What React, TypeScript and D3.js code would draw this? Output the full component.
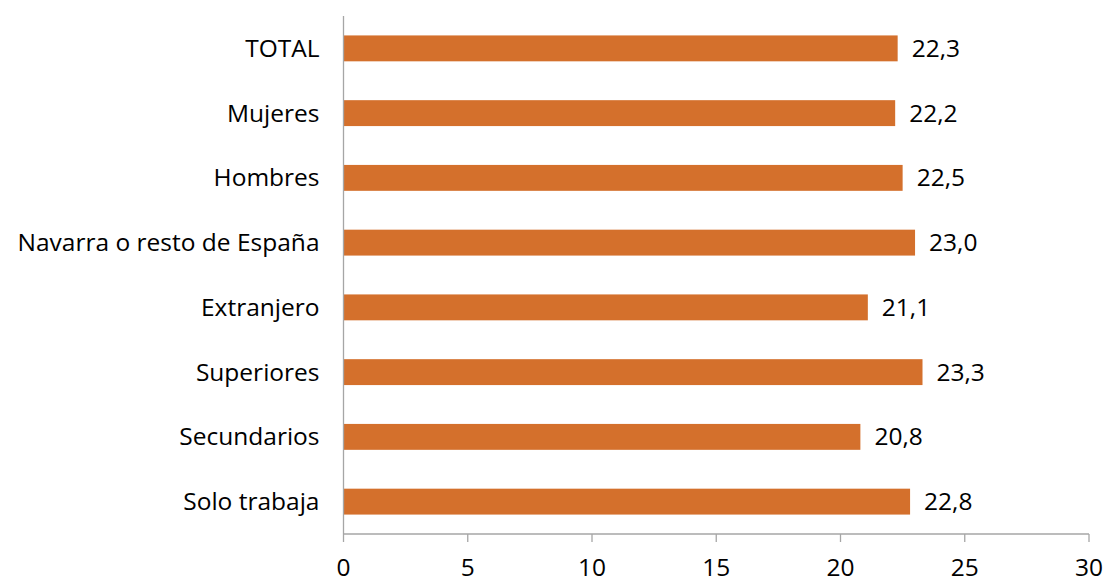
import React from "react"
import * as d3 from "d3"

const categories = [
  "TOTAL",
  "Mujeres",
  "Hombres",
  "Navarra o resto de España",
  "Extranjero",
  "Superiores",
  "Secundarios",
  "Solo trabaja",
]
const values = [22.3, 22.2, 22.5, 23.0, 21.1, 23.3, 20.8, 22.8]
const xTicks = [0, 5, 10, 15, 20, 25, 30]

const W = 1106
const H = 580
const margin = { top: 16, right: 17, bottom: 46, left: 343.5 }
const font = "'Segoe UI', 'Open Sans', 'Noto Sans', sans-serif"
const fontSize = 24.5

const App: React.FC = () => {
  const x = d3.scaleLinear().domain([0, 30]).range([margin.left, W - margin.right])
  const y = d3
    .scaleBand<string>()
    .domain(categories)
    .range([margin.top, H - margin.bottom])
    .paddingInner(0.6)
    .paddingOuter(0.3)
  const fmt = (v: number) => v.toFixed(1).replace(".", ",")
  const axisY = H - margin.bottom
  const axisColor = "#a6a6a6"

  return (
    <svg width={W} height={H} style={{ position: "absolute", left: 0, top: 0 }} fontFamily={font}>
      {categories.map((c, i) => (
        <g key={c}>
          <rect
            x={x(0)}
            y={y(c)!}
            width={x(values[i]) - x(0)}
            height={y.bandwidth()}
            fill="#d4702c"
          />
          <text
            x={x(values[i]) + 14}
            y={y(c)! + y.bandwidth() / 2}
            dy="0.35em"
            fontSize={fontSize}
            fill="#000"
          >
            {fmt(values[i])}
          </text>
          <text
            x={margin.left - 24}
            y={y(c)! + y.bandwidth() / 2}
            dy="0.35em"
            fontSize={fontSize}
            textAnchor="end"
            fill="#000"
          >
            {c}
          </text>
        </g>
      ))}
      <line x1={x(0)} x2={x(0)} y1={margin.top} y2={axisY} stroke={axisColor} strokeWidth={1.3} />
      <line x1={x(0)} x2={x(30)} y1={axisY} y2={axisY} stroke={axisColor} strokeWidth={1.3} />
      {xTicks.map((t) => (
        <g key={t}>
          <line x1={x(t)} x2={x(t)} y1={axisY} y2={axisY + 8} stroke={axisColor} strokeWidth={1.3} />
          <text x={x(t)} y={axisY + 42} fontSize={fontSize} textAnchor="middle" fill="#000">
            {t}
          </text>
        </g>
      ))}
    </svg>
  )
}

export default App
